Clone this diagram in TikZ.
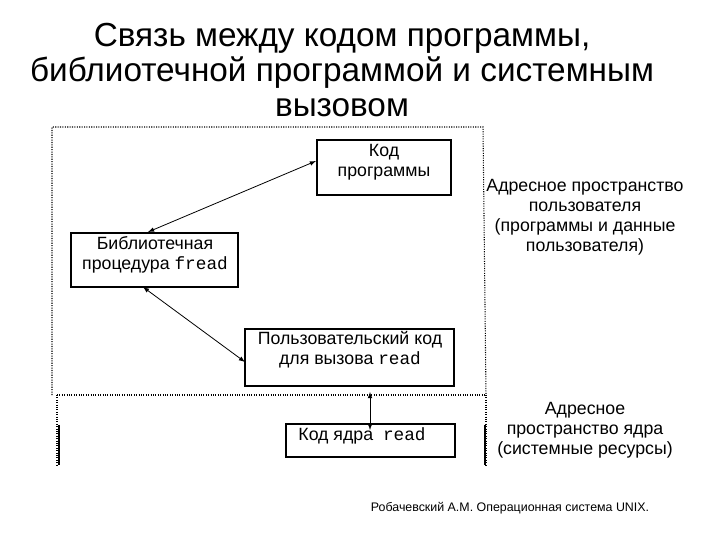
\documentclass[tikz,border=0pt]{standalone}
\usepackage{fontspec}
\setmainfont{Liberation Sans}
\setmonofont{Liberation Mono}
\begin{document}
\begin{tikzpicture}[x=0.75pt,y=-0.75pt,
  bx/.style={draw,thick,minimum width=0pt,inner sep=0pt},
  txt/.style={align=center,font=\fontsize{13.3}{15}\selectfont},
  arr/.style={<->,>=latex,semithick},
  dots/.style={densely dotted,thick}]
\useasboundingbox (0,0) rectangle (720,540);
\node[align=center,font=\fontsize{25}{26.5}\selectfont] (title) at (342,70) {Связь между кодом программы,\\библиотечной программой и системным\\вызовом};
\draw[dots] (52,395) -- (52,127) -- (483,127) -- (486,395);
\draw[dots] (57,395) -- (486,395);
\draw[dots] (57,395) -- (57,465);
\draw[dots] (486,395) -- (486,465);
\draw[thick] (59,425) -- (59,465);
\draw[thick] (485,425) -- (485,465);
\draw[bx] (317,140) rectangle (451,195);
\node[txt] (kp) at (384,162) {Код\\программы};
\draw[bx] (71,233) rectangle (238,287);
\node[txt] (bib) at (155,255) {Библиотечная\\процедура \texttt{fread}};
\draw[bx] (245,329) rectangle (454,386);
\node[txt] (usr) at (350,350) {Пользовательский код\\для вызова \texttt{read}};
\draw[bx] (286,424) rectangle (455,457);
\node[txt] (ker) at (362,436) {Код ядра \ \texttt{read}};
\coordinate (a1) at (148,232); \coordinate (a2) at (316,161);
\coordinate (b1) at (143,287); \coordinate (b2) at (245,362);
\coordinate (c1) at (370,392); \coordinate (c2) at (370,430);
\draw[arr] (a1) -- (a2);
\draw[arr] (b1) -- (b2);
\draw[arr] (c1) -- (c2);
\node[txt] (ua) at (585,217) {Адресное пространство\\пользователя\\(программы и данные\\пользователя)};
\node[txt] (ka) at (585,430) {Адресное\\пространство ядра\\(системные ресурсы)};
\node[font=\fontsize{9.3}{11}\selectfont] (cr) at (510,508) {Робачевский А.М. Операционная система UNIX.};
\end{tikzpicture}
\end{document}
